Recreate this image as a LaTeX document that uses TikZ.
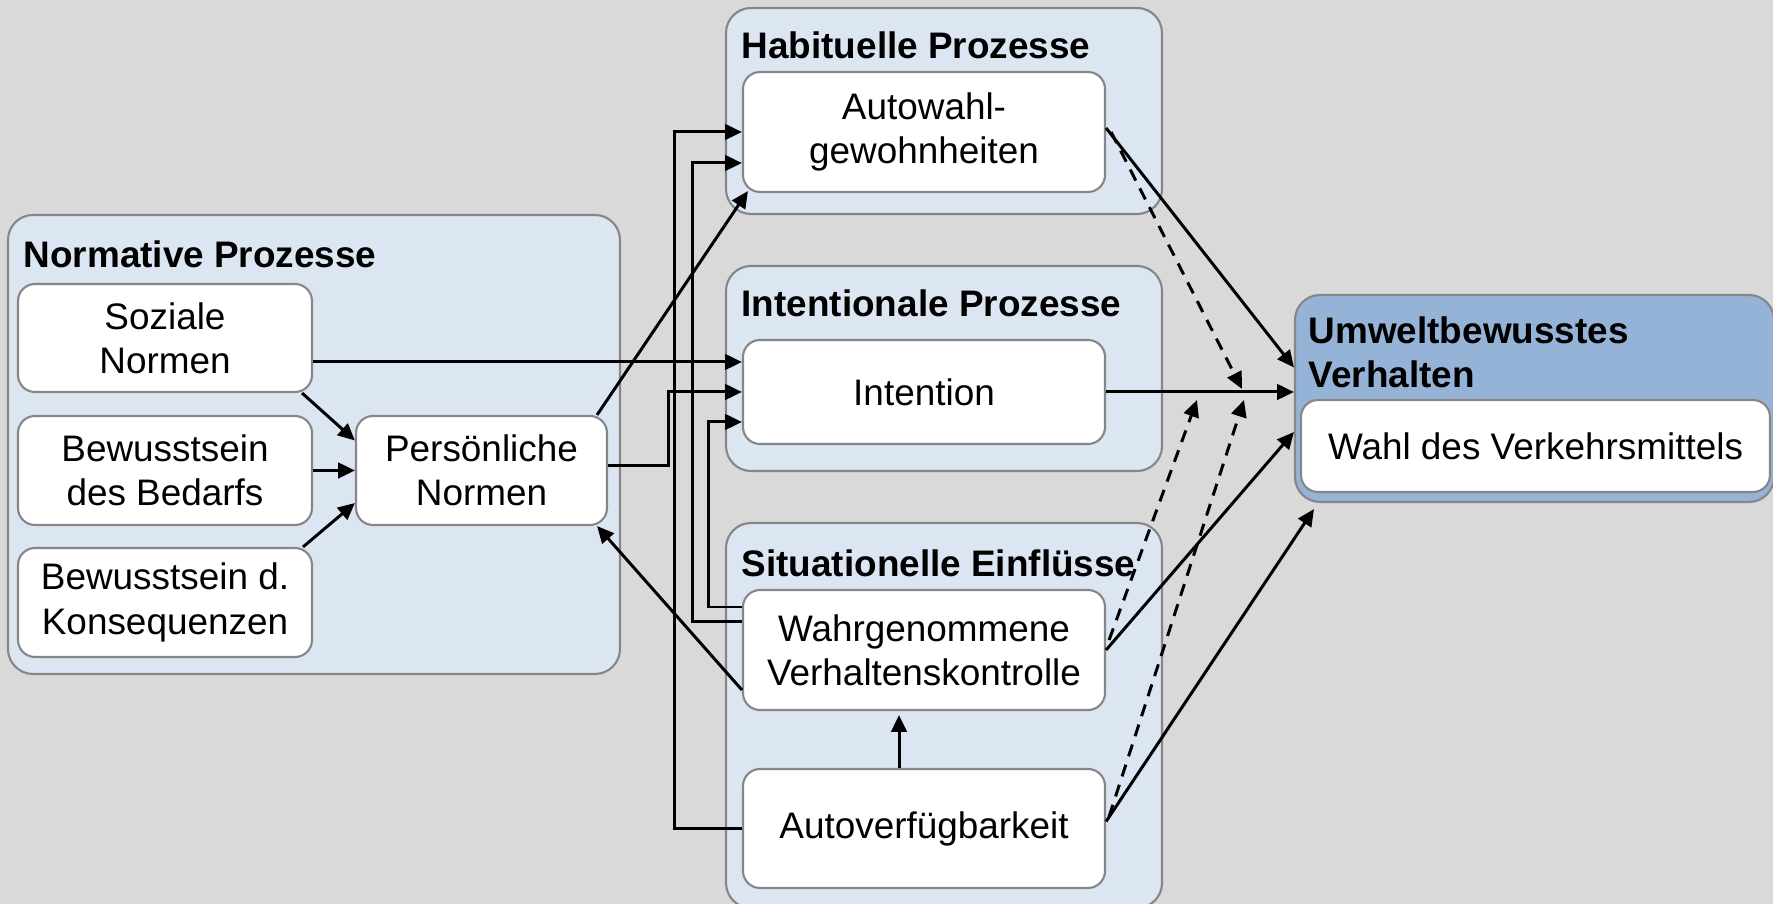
\documentclass[tikz,border=0pt]{standalone}
\usepackage{fontspec}
\setmainfont{Liberation Sans}
\usetikzlibrary{arrows.meta}

\definecolor{hgrund}{HTML}{D9D9D9}
\definecolor{hellblau}{HTML}{DCE6F2}
\definecolor{stahlblau}{HTML}{95B3D7}
\definecolor{rahmen}{HTML}{868686}

\begin{document}
\begin{tikzpicture}
	[font=\fontsize{10.5}{12.6}\selectfont,
	bereich/.style={draw=rahmen,line width=0.6pt,fill=hellblau,rounded corners=0.25cm,inner sep=0pt},
	kasten/.style={draw=rahmen,line width=0.6pt,fill=white,rounded corners=0.17cm,align=center,inner sep=0pt,minimum width=3.62cm,minimum height=1.2cm},
	links/.style={kasten,minimum width=2.94cm,minimum height=1.09cm},
	titel/.style={anchor=west,inner sep=0pt,font=\fontsize{10.5}{12.6}\selectfont\bfseries},
	pfeil/.style={line width=0.85pt,-{Triangle[length=4.8pt,width=4.4pt]}},
	moderation/.style={pfeil,dash pattern=on 3.5pt off 2.5pt}]

	\fill[hgrund] (0,0) rectangle (17.73,9.04);
	\useasboundingbox (0,0) rectangle (17.73,9.04);

	% Bereiche
	\node[bereich,minimum width=6.12cm,minimum height=4.59cm] (norm) at (3.14,4.595) {};
	\node[bereich,minimum width=4.36cm,minimum height=2.06cm] (hab) at (9.44,7.93) {};
	\node[bereich,minimum width=4.36cm,minimum height=2.05cm] (int) at (9.44,5.355) {};
	\node[bereich,minimum width=4.36cm,minimum height=3.85cm] (sit) at (9.44,1.885) {};
	\node[bereich,fill=stahlblau,minimum width=4.79cm,minimum height=2.07cm] (umw) at (15.345,5.055) {};

	\node[titel] (normtit) at (0.23,6.50) {Normative Prozesse};
	\node[titel] (habtit) at (7.41,8.59) {Habituelle Prozesse};
	\node[titel] (inttit) at (7.41,6.01) {Intentionale Prozesse};
	\node[titel] (sittit) at (7.41,3.41) {Situationelle Einflüsse};
	\node[titel,align=left] (umwtit) at (13.08,5.52) {Umweltbewusstes\\Verhalten};

	% Kaesten
	\node[links,minimum height=1.08cm] (soz) at (1.65,5.66) {Soziale\\Normen};
	\node[links] (bed) at (1.65,4.335) {Bewusstsein\\des Bedarfs};
	\node[links] (kon) at (1.65,3.015) {Bewusstsein d.\\Konsequenzen};
	\node[links,minimum width=2.51cm] (pers) at (4.815,4.335) {Persönliche\\Normen};

	\node[kasten] (auto) at (9.24,7.72) {Autowahl-\\gewohnheiten};
	\node[kasten,minimum height=1.04cm] (intent) at (9.24,5.12) {Intention};
	\node[kasten] (wahr) at (9.24,2.54) {Wahrgenommene\\Verhaltenskontrolle};
	\node[kasten,minimum height=1.19cm] (verf) at (9.24,0.755) {Autoverfügbarkeit};
	\node[kasten,minimum width=4.69cm,minimum height=0.92cm] (wahl) at (15.355,4.58) {Wahl des Verkehrsmittels};

	% Pfeile
	\draw[pfeil] ([xshift=-0.11cm]soz.south east) -- ([yshift=0.3cm]pers.west);
	\draw[pfeil] (bed.east) -- (pers.west);
	\draw[pfeil] ([xshift=-0.1cm]kon.north east) -- ([yshift=-0.325cm]pers.west);
	\draw[pfeil] ([yshift=-0.24cm]soz.east) -- ([yshift=-0.24cm]soz.east -| intent.west);
	\draw[pfeil] ([yshift=0.05cm]pers.east) -- ++(0.6,0) |- (intent.west);
	\draw[pfeil] ([xshift=-0.11cm]pers.north east) -- ([shift={(0.06cm,0.02cm)}]auto.south west);
	\draw[pfeil] ([yshift=-0.4cm]wahr.west) -- ([xshift=-0.11cm]pers.south east);
	\draw[pfeil] ([yshift=0.43cm]wahr.west) -- ++(-0.33,0) |- ([yshift=-0.3cm]intent.west);
	\draw[pfeil] ([yshift=0.28cm]wahr.west) -- ++(-0.49,0) |- ([yshift=-0.31cm]auto.west);
	\draw[pfeil] (verf.west) -- ++(-0.67,0) |- (auto.west);
	\draw[pfeil] ([xshift=-0.25cm]verf.north) -- ([xshift=-0.25cm,yshift=-0.04cm]wahr.south);

	\draw[pfeil] ([yshift=0.04cm]auto.east) -- ([yshift=0.31cm]umw.west);
	\draw[pfeil] (intent.east) -- (intent.east -| umw.west);
	\draw[pfeil] (wahr.east) -- ([yshift=-0.335cm]umw.west);
	\draw[pfeil] ([yshift=0.07cm]verf.east) -- ([shift={(0.2cm,-0.06cm)}]umw.south west);

	\coordinate (m1) at (12.42,5.15);
	\coordinate (m2) at (11.97,5.04);
	\coordinate (m3) at (12.44,5.04);
	\draw[moderation] ([xshift=0.05cm]auto.east) -- (m1);
	\draw[moderation] ([shift={(0.03cm,0.1cm)}]wahr.east) -- (m2);
	\draw[moderation] ([shift={(0.03cm,0.12cm)}]verf.east) -- (m3);
\end{tikzpicture}
\end{document}
